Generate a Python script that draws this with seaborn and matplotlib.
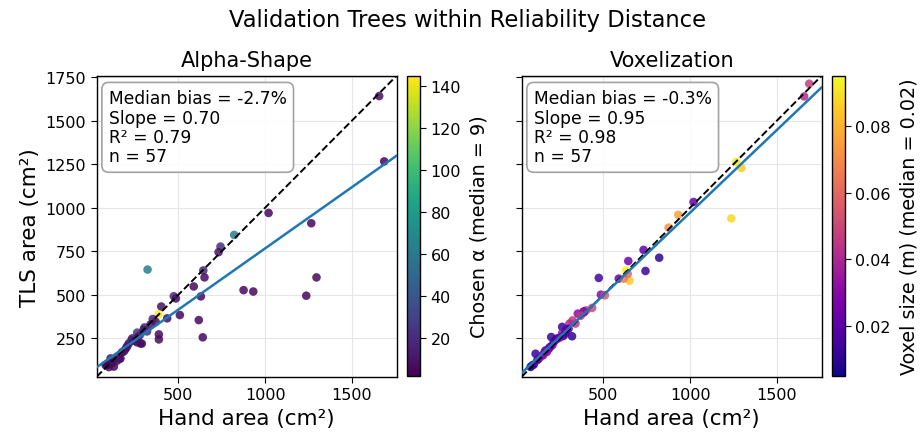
import numpy as np
import pandas as pd
import matplotlib
matplotlib.use("Agg")
import matplotlib.pyplot as plt
import seaborn as sns

# ---- data ----
hand_area = [1657, 1686, 1020, 1266, 822, 743, 732, 323, 644, 651,
             1296, 589, 876, 932, 1237, 630, 474, 486, 402, 386,
             509, 436, 618, 353, 305, 282, 263, 388, 388, 641,
             290, 263, 235, 215, 206, 192, 167, 154, 129, 91,
             110, 81, 161, 186, 282, 300, 340, 230, 270, 200,
             175, 145, 120, 250, 320, 370, 100]
tls_alpha = [1641, 1266, 970, 911, 844, 777, 745, 645, 640, 600,
             600, 548, 527, 519, 495, 491, 492, 479, 433, 388,
             384, 365, 355, 361, 313, 273, 283, 273, 244, 256,
             220, 227, 250, 221, 206, 183, 135, 145, 88, 97,
             135, 97, 131, 174, 221, 300, 330, 240, 260, 195,
             170, 120, 110, 235, 290, 345, 85]
alpha_value = [8, 5, 5, 5, 62, 22, 10, 62, 18, 6,
               5, 6, 5, 5, 5, 5, 20, 8, 8, 145,
               5, 6, 5, 15, 22, 45, 25, 6, 6, 5,
               6, 12, 10, 8, 10, 12, 6, 10, 5, 6,
               8, 2, 8, 20, 6, 12, 8, 15, 10, 8,
               6, 10, 6, 8, 20, 10, 5]
tls_voxel = [1639, 1712, 1033, 1263, 713, 637, 758, 353, 694, 581,
             1228, 593, 886, 959, 939, 640, 597, 501, 411, 402,
             497, 425, 593, 392, 335, 277, 316, 405, 398, 620,
             300, 280, 250, 229, 210, 200, 181, 153, 134, 95,
             162, 86, 170, 190, 290, 305, 335, 245, 264, 258,
             172, 150, 125, 255, 262, 380, 100]
voxel_size = [0.042, 0.047, 0.022, 0.092, 0.010, 0.012, 0.022, 0.045, 0.025, 0.085,
              0.085, 0.025, 0.072, 0.075, 0.088, 0.095, 0.014, 0.030, 0.050, 0.010,
              0.055, 0.050, 0.065, 0.030, 0.040, 0.040, 0.012, 0.028, 0.035, 0.060,
              0.015, 0.035, 0.020, 0.012, 0.028, 0.015, 0.020, 0.040, 0.020, 0.010,
              0.012, 0.005, 0.025, 0.020, 0.020, 0.020, 0.045, 0.018, 0.012, 0.012,
              0.030, 0.030, 0.020, 0.025, 0.010, 0.045, 0.015]

panel_titles = ["Alpha-Shape", "Voxelization"]
stat_texts = ["Median bias = -2.7%\nSlope = 0.70\nR\u00b2 = 0.79\nn = 57",
              "Median bias = -0.3%\nSlope = 0.95\nR\u00b2 = 0.98\nn = 57"]
cbar_labels = ["Chosen \u03b1 (median = 9)", "Voxel size (m) (median = 0.02)"]
cmaps = ["viridis", "plasma"]
x_ticks = [500, 1000, 1500]
y_ticks = [250, 500, 750, 1000, 1250, 1500, 1750]
cbar_ticks = [[20, 40, 60, 80, 100, 120, 140], [0.02, 0.04, 0.06, 0.08]]
lims = (30, 1758)

df = pd.DataFrame({"hand": hand_area, "tls_a": tls_alpha, "alpha": alpha_value,
                   "tls_v": tls_voxel, "vox": voxel_size})

sns.set_theme(style="ticks")
plt.rcParams["font.family"] = ["DejaVu Sans"]
for k in ["text.color", "axes.labelcolor", "xtick.color", "ytick.color"]:
    plt.rcParams[k] = "black"

W, H = 924, 435
fig = plt.figure(figsize=(9.24, 4.35), dpi=100)

def rect(x0, y0, x1, y1):
    return [x0 / W, 1 - y1 / H, (x1 - x0) / W, (y1 - y0) / H]

ax_rects = [rect(96.7, 76.7, 396.7, 377.7), rect(521.7, 76.7, 821.7, 377.7)]
cb_rects = [rect(407, 77, 420, 377), rect(832, 77, 845, 377)]

cols = [("tls_a", "alpha"), ("tls_v", "vox")]
for i in range(2):
    ax = fig.add_axes(ax_rects[i])
    ycol, ccol = cols[i]
    cvals = df[ccol].values
    norm = matplotlib.colors.Normalize(vmin=cvals.min(), vmax=cvals.max())
    ax.grid(True, color="#e6e6e6", linewidth=0.8)
    ax.set_axisbelow(True)
    sns.scatterplot(data=df, x="hand", y=ycol, hue=ccol, palette=cmaps[i],
                    hue_norm=norm, legend=False, s=38, alpha=0.85,
                    linewidth=0, ax=ax, zorder=3)
    ax.plot(lims, lims, color="black", linestyle="--", linewidth=1.4, zorder=4)
    slope, intercept = np.polyfit(df["hand"].values, df[ycol].values, 1)
    xx = np.array(lims)
    ax.plot(xx, slope * xx + intercept, color="#1f77b4", linewidth=1.8, zorder=5)
    ax.set_xlim(lims)
    ax.set_ylim(lims)
    ax.set_xticks(x_ticks)
    ax.set_yticks(y_ticks)
    ax.tick_params(labelsize=11.5, length=4, width=0.8, colors="black")
    for sp in ax.spines.values():
        sp.set_visible(True)
        sp.set_color("black")
        sp.set_linewidth(1.0)
    ax.set_title(panel_titles[i], fontsize=15, pad=7)
    ax.set_xlabel("Hand area (cm\u00b2)", fontsize=15.5, labelpad=4)
    if i == 0:
        ax.set_ylabel("TLS area (cm\u00b2)", fontsize=15.5, labelpad=4)
    else:
        ax.set_ylabel("")
        ax.tick_params(labelleft=False)
    ax.text(0.04, 0.955, stat_texts[i], transform=ax.transAxes, fontsize=12.3,
            va="top", ha="left", zorder=6, linespacing=1.1,
            bbox=dict(boxstyle="round,pad=0.4", facecolor="white",
                      edgecolor="#999999", linewidth=1.2, alpha=0.9))
    cax = fig.add_axes(cb_rects[i])
    sm = matplotlib.cm.ScalarMappable(norm=norm, cmap=cmaps[i])
    cb = fig.colorbar(sm, cax=cax)
    cb.set_ticks(cbar_ticks[i])
    cb.ax.tick_params(labelsize=11.5, length=4, width=0.8, colors="black")
    cb.outline.set_edgecolor("black")
    cb.outline.set_linewidth(1.0)
    cb.set_label(cbar_labels[i], fontsize=13.8, labelpad=6)

fig.suptitle("Validation Trees within Reliability Distance", fontsize=16.3,
             x=468 / W, y=1 - 20 / H, va="center")

fig.savefig("out.png", dpi=100)
